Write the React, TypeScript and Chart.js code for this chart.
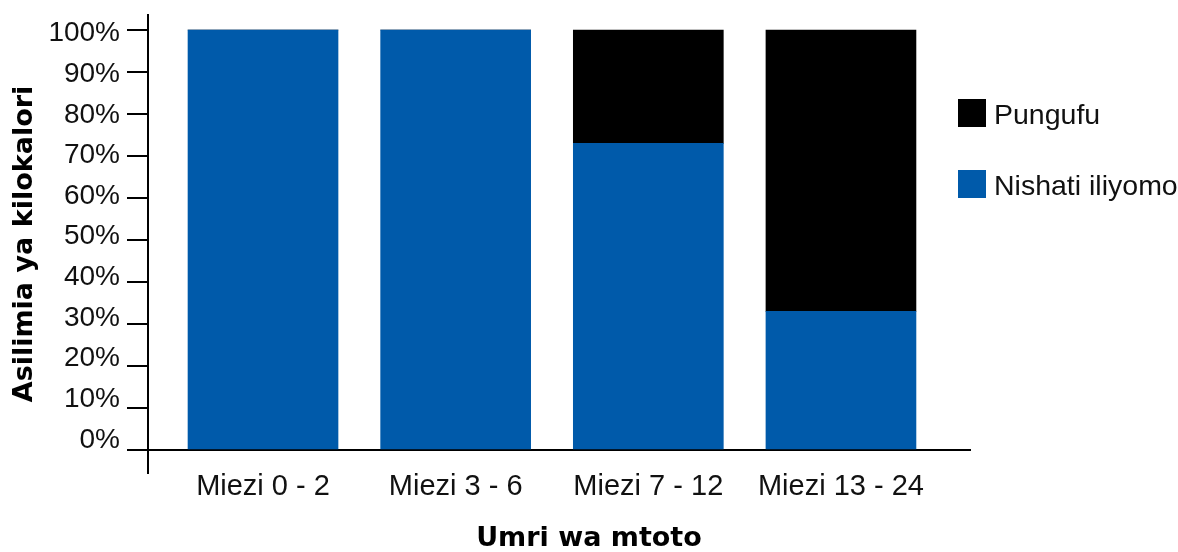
import React, { useEffect, useRef } from "react";
import { Chart, registerables } from "chart.js";

Chart.register(...registerables);

const categories = ["Miezi 0 - 2", "Miezi 3 - 6", "Miezi 7 - 12", "Miezi 13 - 24"];
const nishatiIliyomo = [100, 100, 73, 33];
const pungufu = [0, 0, 27, 67];
const seriesNames = ["Nishati iliyomo", "Pungufu"];
const seriesColors = ["#005AAA", "#000000"];
const yTickValues = [0, 10, 20, 30, 40, 50, 60, 70, 80, 90, 100];
const yTitle = "Asilimia ya kilokalori";
const xTitle = "Umri wa mtoto";

const REG = "'Liberation Sans', Arial, sans-serif";
const BOLD = "'DejaVu Sans', sans-serif";

const keepTicks = (scale: any) => {
  scale.ticks = yTickValues.map((v) => ({ value: v }));
};

export default function App() {
  const ref = useRef<HTMLCanvasElement | null>(null);

  useEffect(() => {
    if (!ref.current) return;
    const chart = new Chart(ref.current, {
      type: "bar",
      data: {
        datasets: [
          {
            label: seriesNames[0],
            data: nishatiIliyomo.map((v, i) => ({ x: i, y: v })),
            backgroundColor: seriesColors[0],
            barThickness: 150,
            stack: "s",
          },
          {
            label: seriesNames[1],
            data: pungufu.map((v, i) => ({ x: i, y: v })),
            backgroundColor: seriesColors[1],
            barThickness: 150,
            stack: "s",
          },
        ],
      },
      options: {
        animation: false,
        responsive: false,
        devicePixelRatio: 1,
        layout: { padding: { left: 0, top: 15, right: 0, bottom: 0 } },
        plugins: {
          legend: { display: false },
          tooltip: { enabled: false },
          title: {
            display: true,
            position: "bottom",
            text: xTitle,
            color: "#000",
            font: { family: BOLD, size: 27, weight: "bold", lineHeight: 1 },
            padding: { top: 3, bottom: 0 },
          },
        },
        scales: {
          x: {
            type: "linear",
            stacked: true,
            offset: false,
            min: -0.597,
            max: 3.675,
            afterBuildTicks: (scale: any) => {
              scale.ticks = categories.map((_, i) => ({ value: i }));
            },
            afterFit: (scale: any) => {
              scale.height = 49;
            },
            grid: { display: false, drawTicks: false, offset: false },
            border: { display: false },
            ticks: {
              autoSkip: false,
              maxRotation: 0,
              padding: 1,
              color: "#111",
              font: { family: REG, size: 29, lineHeight: 0.9 },
              callback: (v: any) => categories[Math.round(Number(v))] ?? "",
            },
          },
          y: {
            type: "linear",
            position: "left",
            stacked: true,
            weight: 0,
            min: -5.476,
            max: 103.571,
            afterBuildTicks: keepTicks,
            afterFit: (scale: any) => {
              scale.width = 21;
            },
            ticks: { display: false },
            grid: {
              drawTicks: true,
              tickLength: 21,
              tickWidth: 2,
              tickColor: "#000",
              lineWidth: 2,
              color: (ctx: any) => (ctx.tick && ctx.tick.value === 0 ? "#000" : "rgba(0,0,0,0)"),
            },
            border: { display: true, color: "#000", width: 2 },
          },
          yLabels: {
            type: "linear",
            position: "left",
            weight: 10,
            min: -8.12,
            max: 104.55,
            afterBuildTicks: keepTicks,
            afterFit: (scale: any) => {
              scale.width = 127;
            },
            grid: { display: false, drawTicks: false },
            border: { display: false },
            ticks: {
              padding: 7,
              color: "#111",
              font: { family: REG, size: 28, lineHeight: 0.5 },
              callback: (v: any) => `${v}%`,
            },
            title: {
              display: true,
              text: yTitle,
              color: "#000",
              font: { family: BOLD, size: 27, weight: "bold", lineHeight: 1.2 },
              padding: { top: 9, bottom: 0 },
            },
          },
          legendSpace: {
            type: "linear",
            position: "right",
            min: 0,
            max: 1,
            afterBuildTicks: (scale: any) => {
              scale.ticks = [];
            },
            afterFit: (scale: any) => {
              scale.width = 207;
            },
            grid: { display: false, drawTicks: false },
            border: { display: false },
            ticks: { display: false },
          },
        },
      } as any,
    });
    return () => chart.destroy();
  }, []);

  const legendItems = [1, 0].map((i) => ({ name: seriesNames[i], color: seriesColors[i] }));

  return (
    <div style={{ position: "absolute", left: 0, top: 0, width: 1178, height: 552, background: "#fff" }}>
      <canvas ref={ref} width={1178} height={552} style={{ display: "block" }} />
      {legendItems.map((it, k) => (
        <div
          key={it.name}
          style={{
            position: "absolute",
            left: 958,
            top: 99 + k * 71,
            height: 28,
            display: "flex",
            alignItems: "center",
            whiteSpace: "nowrap",
          }}
        >
          <span style={{ width: 28, height: 28, background: it.color, display: "inline-block" }} />
          <span
            style={{
              marginLeft: 8,
              font: `28.5px ${REG}`,
              color: "#111",
              lineHeight: "28px",
              position: "relative",
              top: 1,
            }}
          >
            {it.name}
          </span>
        </div>
      ))}
    </div>
  );
}
